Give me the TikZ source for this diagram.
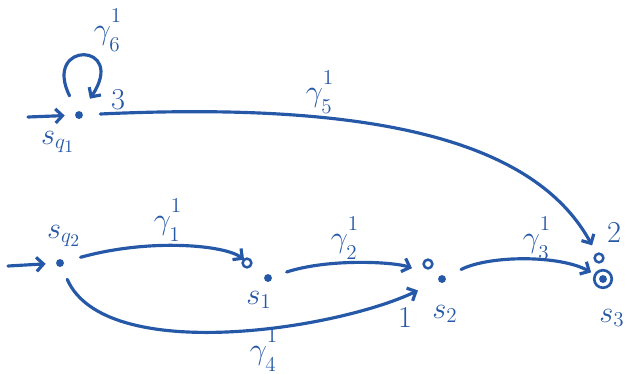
\documentclass[tikz,border=0pt]{standalone}
\usetikzlibrary{arrows.meta}
\definecolor{ink}{RGB}{38,88,168}
\newcommand\gammaone[1]{\gamma^{\raisebox{0.2em}{$\scriptstyle 1$}}_{\raisebox{-0.15em}{$\scriptstyle #1$}}}
\begin{document}
\begin{tikzpicture}[x=0.02cm,y=-0.02cm, line width=1.8pt, draw=ink, line cap=round,
  state/.style={circle,fill=ink,inner sep=0pt,minimum size=4.5pt},
  final/.style={circle,draw=ink,line width=1.5pt,inner sep=0pt,minimum size=10pt},
  ringmark/.style={circle,draw=ink,line width=1.4pt,inner sep=0pt,minimum size=5pt},
  lbl/.style={text=ink,font=\LARGE,inner sep=1pt},
  arr/.style={-{Straight Barb[length=4pt,width=8pt]}}]
\useasboundingbox (0,0) rectangle (629,373);
% states
\node[state] (sq1) at (79,115) {};
\node[state] (sq2) at (60,263) {};
\node[state] (s1) at (268,278) {};
\node[state] (s2) at (442,279) {};
\node[final] (s3) at (603,279) {};
\node[state] (s3d) at (603,279) {};
% small marks
\node[ringmark] (o1) at (247,263) {};
\node[ringmark] (o2) at (428,264) {};
\node[ringmark] (o3) at (599,258) {};
% initial arrows
\coordinate (i1) at (28,117);
\coordinate (i2) at (8,266);
\draw[arr,shorten >=5pt] (i1) -- (sq1);
\draw[arr,shorten >=5pt] (i2) -- (sq2);
% loop
\draw[arr,shorten <=9pt,shorten >=8pt] (sq1) .. controls (42,40) and (128,42) .. (sq1);
% edges
\draw[arr,shorten <=9pt,shorten >=5pt] (sq1) .. controls (400,100) and (540,150) .. (o3);
\draw[arr,shorten <=9pt,shorten >=14pt] (sq2) .. controls (150,238) and (225,245) .. (s1);
\draw[arr,shorten <=8pt,shorten >=15pt] (s1) .. controls (330,258) and (395,262) .. (s2);
\draw[arr,shorten <=9pt,shorten >=2pt] (s2) .. controls (490,255) and (560,255) .. (s3);
\draw[arr,shorten <=7pt,shorten >=12pt] (sq2) .. controls (105,365) and (335,330) .. (s2);
% state labels
\node[lbl] (lq1) at (58,142) {$s_{q_1}$};
\node[lbl] (lq2) at (64,236) {$s_{q_2}$};
\node[lbl] (l1) at (259,300) {$s_1$};
\node[lbl] (l2) at (445,314) {$s_2$};
\node[lbl] (l3) at (612,318) {$s_3$};
% edge labels
\node[lbl] (g6) at (108,30) {$\gammaone{6}$};
\node[lbl] (g5) at (320,92) {$\gammaone{5}$};
\node[lbl] (g1) at (168,220) {$\gammaone{1}$};
\node[lbl] (g2) at (345,238) {$\gammaone{2}$};
\node[lbl] (g3) at (537,238) {$\gammaone{3}$};
\node[lbl] (g4) at (264,350) {$\gammaone{4}$};
% numbers
\node[lbl] (n3) at (118,100) {$3$};
\node[lbl] (n2) at (614,233) {$2$};
\node[lbl] (n1) at (405,318) {$1$};
\end{tikzpicture}
\end{document}
